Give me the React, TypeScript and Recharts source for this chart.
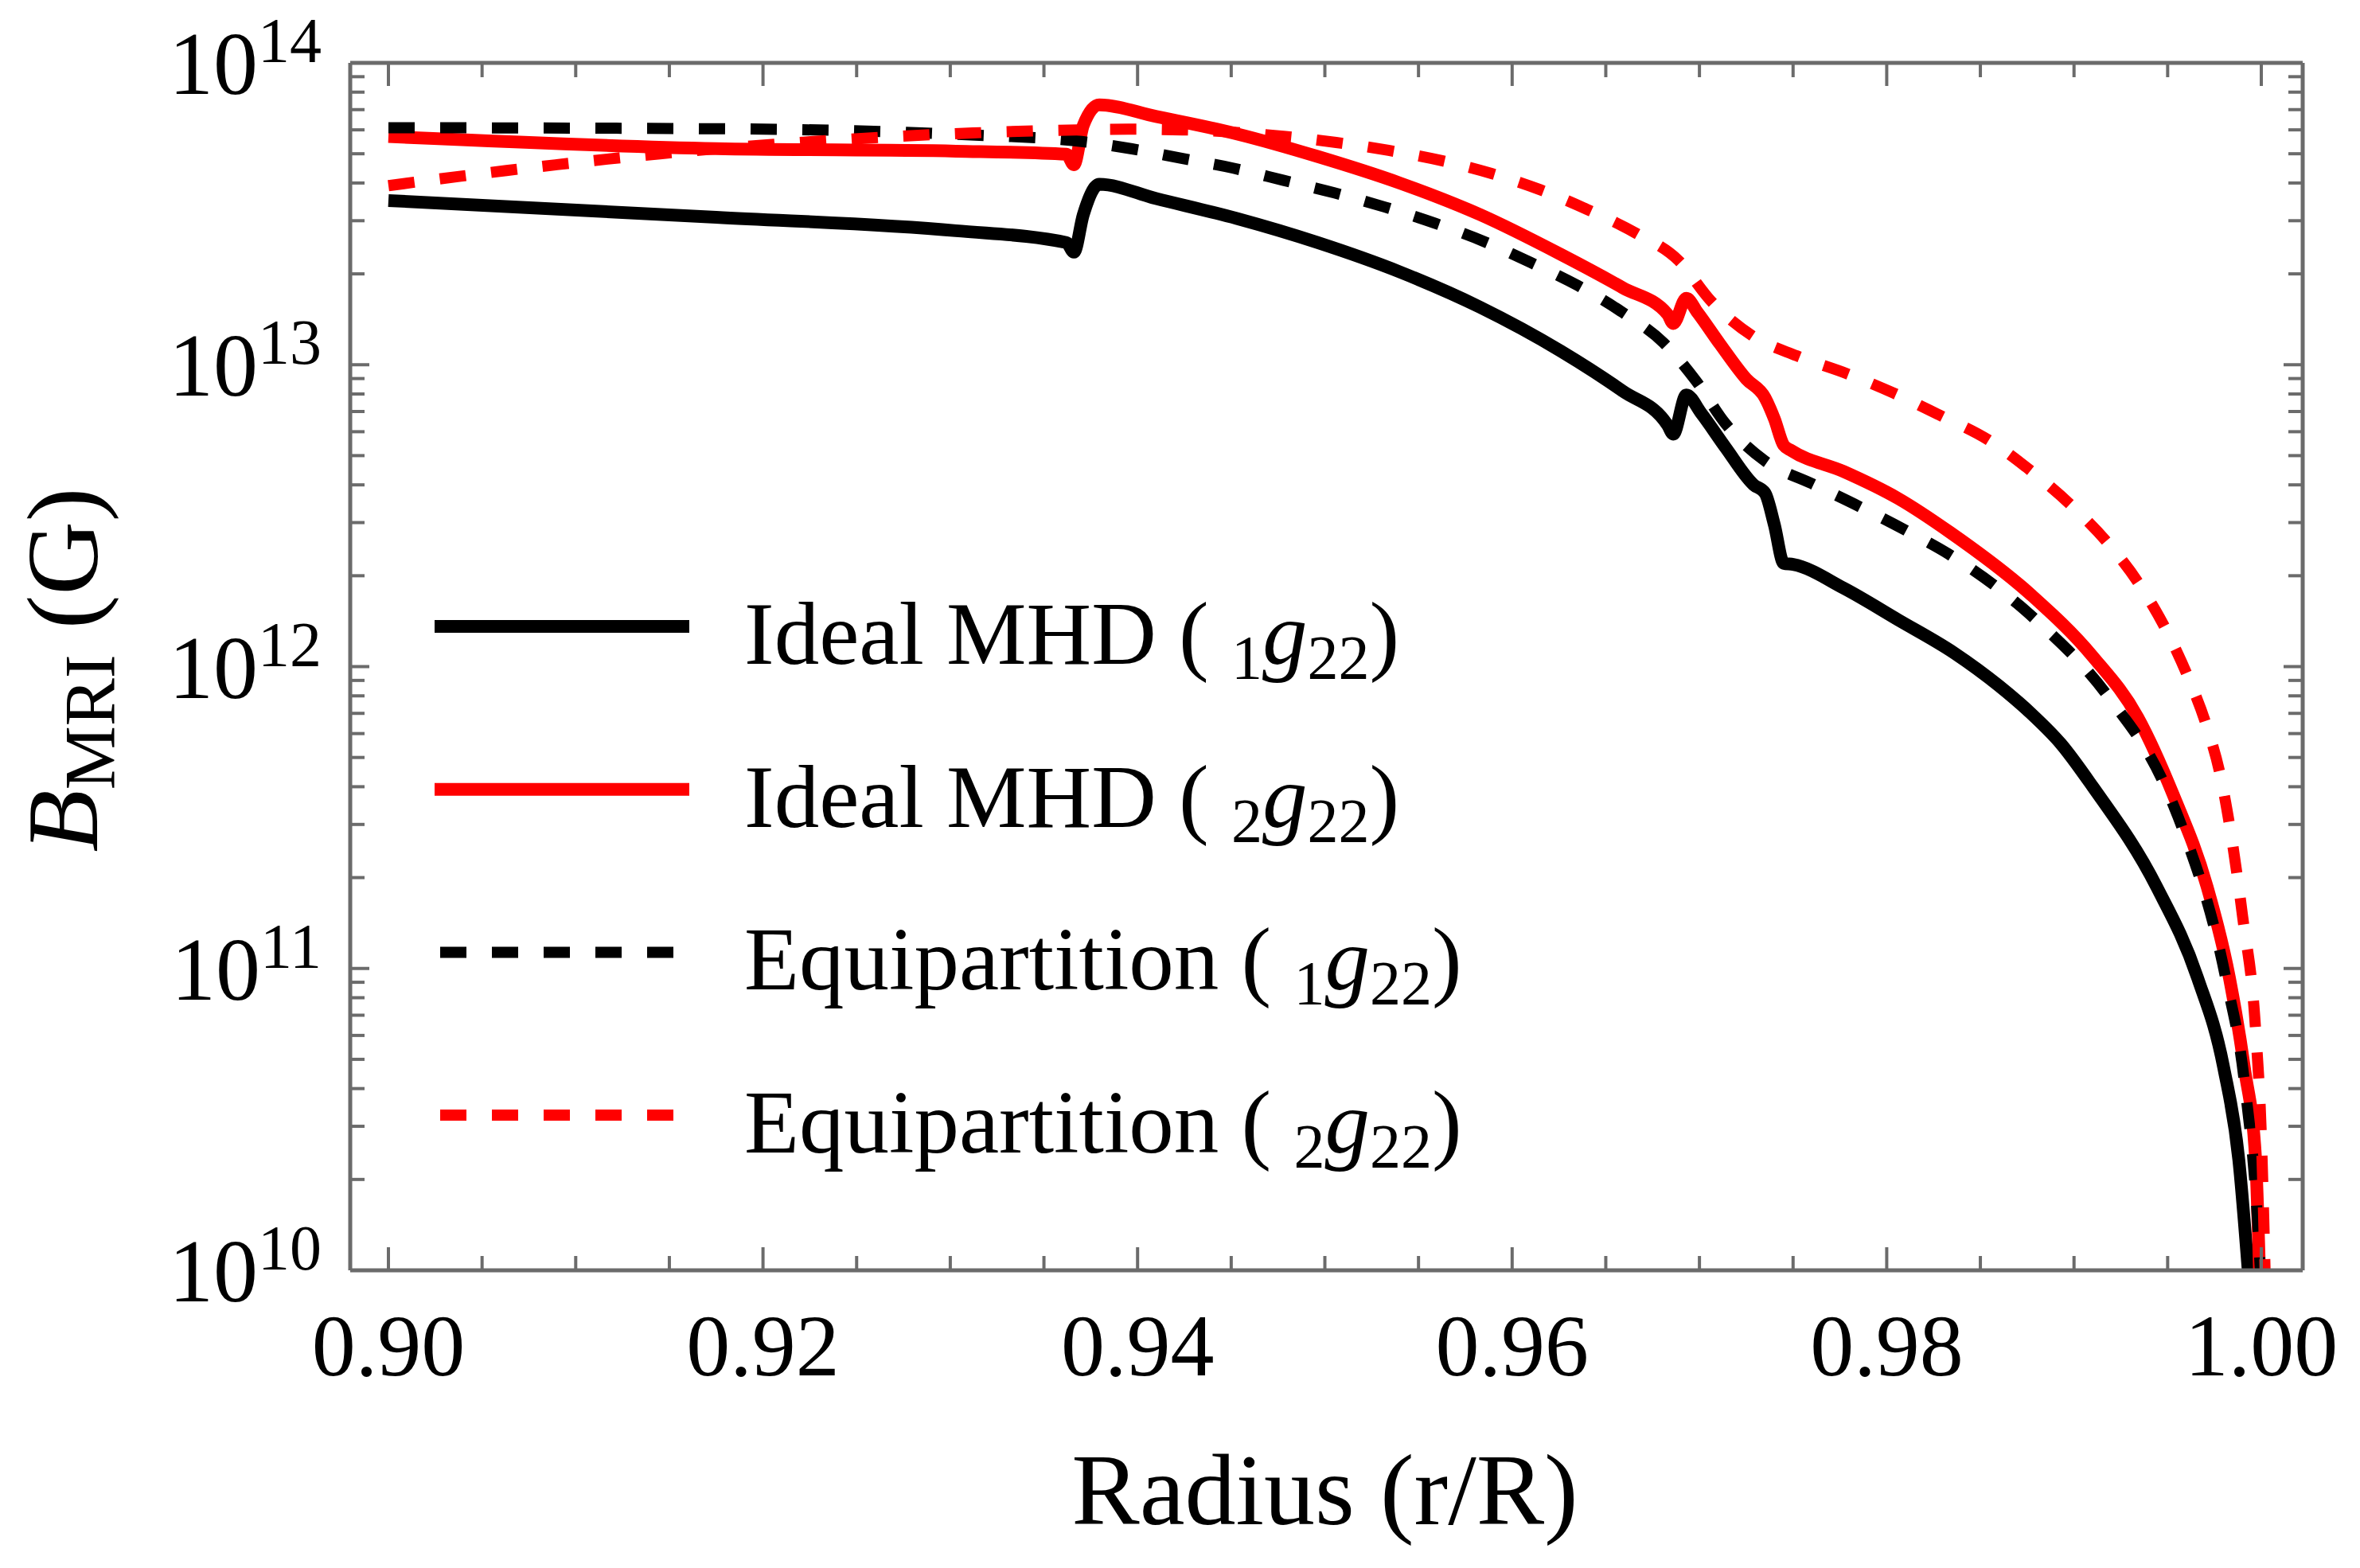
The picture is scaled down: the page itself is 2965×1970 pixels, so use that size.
import React from "react"
import { LineChart, Line, XAxis, YAxis, Legend } from "recharts"

const FONT = '"Liberation Serif", "Times New Roman", serif'
const GRAY = "#6b6b6b"

// radius r/R and B_MRI (G)
const idealG1X = [0.9, 0.9175, 0.9303, 0.9362, 0.9366, 0.9371, 0.93795, 0.941, 0.9453, 0.9496, 0.954, 0.9583, 0.9626, 0.9659, 0.9683, 0.9686, 0.9693, 0.9701, 0.9714, 0.9729, 0.9735, 0.974, 0.9745, 0.975, 0.9777, 0.9806, 0.9836, 0.986, 0.9877, 0.9893, 0.991, 0.9944, 0.9966, 0.998, 0.9988, 0.9993]
const idealG1Y = [3.5e13, 3.08e13, 2.78e13, 2.54e13, 2.36e13, 3.14e13, 3.96e13, 3.55e13, 3.05e13, 2.54e13, 2.03e13, 1.55e13, 1.11e13, 8.18e12, 6.31e12, 5.89e12, 7.94e12, 6.9e12, 5.31e12, 4.0e12, 3.76e12, 2.95e12, 2.2e12, 2.18e12, 1.82e12, 1.43e12, 1.11e12, 8.63e11, 7.0e11, 5.55e11, 4.0e11, 1.87e11, 9.3e10, 4.67e10, 2.32e10, 1.0e10]

const idealG2X = [0.9, 0.9175, 0.9303, 0.9362, 0.9366, 0.9371, 0.93795, 0.941, 0.9453, 0.9496, 0.954, 0.9583, 0.9626, 0.9659, 0.9683, 0.9686, 0.9693, 0.9699, 0.9711, 0.9725, 0.9735, 0.974, 0.9745, 0.9749, 0.9777, 0.9806, 0.9834, 0.9877, 0.991, 0.9934, 0.9953, 0.9971, 0.9983, 0.9991, 0.9997, 0.9999]
const idealG2Y = [5.7e13, 5.2e13, 5.1e13, 4.98e13, 4.6e13, 6.2e13, 7.26e13, 6.64e13, 5.82e13, 4.9e13, 4.0e13, 3.14e13, 2.32e13, 1.8e13, 1.47e13, 1.37e13, 1.66e13, 1.49e13, 1.17e13, 8.97e12, 7.78e12, 6.62e12, 5.41e12, 5.2e12, 4.43e12, 3.61e12, 2.78e12, 1.73e12, 1.08e12, 6.8e11, 3.76e11, 1.87e11, 9.3e10, 4.67e10, 2.32e10, 1.0e10]

const equiG1X = [0.9, 0.9175, 0.9303, 0.9371, 0.9397, 0.9424, 0.9451, 0.9478, 0.9505, 0.9532, 0.9559, 0.9585, 0.961, 0.9635, 0.9659, 0.9681, 0.9698, 0.9714, 0.9735, 0.976, 0.9785, 0.981, 0.9833, 0.9879, 0.9918, 0.9948, 0.9958, 0.9981, 0.9991, 0.99985, 0.99995]
const equiG1Y = [6.1e13, 6.05e13, 5.8e13, 5.48e13, 5.19e13, 4.82e13, 4.48e13, 4.08e13, 3.71e13, 3.33e13, 2.94e13, 2.56e13, 2.18e13, 1.83e13, 1.49e13, 1.18e13, 8.87e12, 6.37e12, 4.8e12, 4.04e12, 3.4e12, 2.83e12, 2.36e12, 1.44e12, 8.0e11, 4.1e11, 2.9e11, 9.3e10, 4.2e10, 1.3e10, 1.0e10]

const equiG2X = [0.9, 0.9037, 0.9063, 0.909, 0.9117, 0.9145, 0.9173, 0.9312, 0.9368, 0.9395, 0.9424, 0.9479, 0.9506, 0.9534, 0.9562, 0.9589, 0.9615, 0.964, 0.9666, 0.9689, 0.9706, 0.9728, 0.9752, 0.9779, 0.9804, 0.9828, 0.9855, 0.9878, 0.9899, 0.9918, 0.9935, 0.9949, 0.9961, 0.9971, 0.9978, 0.9983, 0.999, 0.9997, 1.0, 1.0002]
const equiG2Y = [3.92e13, 4.2e13, 4.4e13, 4.6e13, 4.8e13, 5.0e13, 5.18e13, 5.86e13, 6.0e13, 6.03e13, 6.0e13, 5.7e13, 5.45e13, 5.13e13, 4.75e13, 4.3e13, 3.8e13, 3.27e13, 2.73e13, 2.21e13, 1.63e13, 1.25e13, 1.07e13, 9.33e12, 8.04e12, 6.82e12, 5.6e12, 4.4e12, 3.4e12, 2.57e12, 1.87e12, 1.33e12, 9.2e11, 6.3e11, 4.4e11, 3.0e11, 1.49e11, 6.2e10, 2.8e10, 1.0e10]

// axes
const xMajor = [0.9, 0.92, 0.94, 0.96, 0.98, 1.0]
const xMinor = [0.905, 0.91, 0.915, 0.925, 0.93, 0.935, 0.945, 0.95, 0.955, 0.965, 0.97, 0.975, 0.985, 0.99, 0.995]
const yMajor = [1e10, 1e11, 1e12, 1e13, 1e14]
const yMinor = [10, 11, 12, 13].flatMap((e) => [2, 3, 4, 5, 6, 7, 8, 9].map((m) => m * 10 ** e))
const X_DOMAIN = [0.89796, 1.00221]
const Y_DOMAIN = [1e10, 1e14]

const series = [
  { name: "Ideal MHD 1", label: "Ideal MHD", sub: "1", color: "#000000", dashed: false, xs: idealG1X, ys: idealG1Y },
  { name: "Ideal MHD 2", label: "Ideal MHD", sub: "2", color: "#ff0000", dashed: false, xs: idealG2X, ys: idealG2Y },
  { name: "Equipartition 1", label: "Equipartition", sub: "1", color: "#000000", dashed: true, xs: equiG1X, ys: equiG1Y },
  { name: "Equipartition 2", label: "Equipartition", sub: "2", color: "#ff0000", dashed: true, xs: equiG2X, ys: equiG2Y },
]

const toPoints = (xs: number[], ys: number[]) => xs.map((x, i) => ({ x, y: ys[i] }))

const Blank = () => <g />

const YTick = (props: any) => {
  const { x, y, payload } = props
  const exp = Math.round(Math.log10(payload.value))
  return (
    <text x={x} y={y + 39} textAnchor="end" fontFamily={FONT} fontSize={112} fill="#000">
      <tspan>10</tspan>
      <tspan dy={-40} fontSize={80}>{exp}</tspan>
    </text>
  )
}

const YLabel = (props: any) => {
  const vb = props.viewBox || {}
  const cy = vb.y + vb.height / 2
  return (
    <text transform={`translate(122, ${cy + 4}) rotate(-90)`} textAnchor="middle" fontFamily={FONT} fontSize={128} fill="#000">
      <tspan fontStyle="italic">B</tspan>
      <tspan dy={22} fontSize={90}>MRI</tspan>
      <tspan dy={-22}> (G)</tspan>
    </text>
  )
}

const XLabel = (props: any) => {
  const vb = props.viewBox || {}
  const cx = vb.x + vb.width / 2
  return (
    <text x={cx - 2} y={1915} textAnchor="middle" fontFamily={FONT} fontSize={128} fill="#000">
      Radius (r/R)
    </text>
  )
}

// legend drawn in series order, not in the sorted payload order
const LegendBox = () => (
  <svg width={1120} height={820} style={{ display: "block", overflow: "visible" }}>
    {series.map((s, i) => {
      const cy = 87 + i * 204.7
      return (
        <g key={s.name}>
          <line
            x1={s.dashed ? 13 : 6}
            x2={s.dashed ? 310 : 326}
            y1={cy}
            y2={cy}
            stroke={s.color}
            strokeWidth={s.dashed ? 14 : 16}
            strokeDasharray={s.dashed ? "33 32" : undefined}
          />
          <text x={395} y={cy + 47} fontFamily={FONT} fontSize={113} fill="#000">
            <tspan>{s.label} ( </tspan>
            <tspan dy={18} fontSize={78}>{s.sub}</tspan>
            <tspan dy={-18} fontStyle="italic">g</tspan>
            <tspan dy={18} fontSize={78}>22</tspan>
            <tspan dy={-18}>)</tspan>
          </text>
        </g>
      )
    })}
  </svg>
)

const tickLineStyle = { stroke: GRAY, strokeWidth: 4 }
const axisLineStyle = { stroke: GRAY, strokeWidth: 5 }

// tick-only axes: mirrored so the marks point into the frame
const xTickAxis = (id: string, orientation: "top" | "bottom", ticks: number[], size: number, line: boolean) => (
  <XAxis
    key={id}
    xAxisId={id}
    orientation={orientation}
    mirror
    dataKey="x"
    type="number"
    domain={X_DOMAIN}
    allowDataOverflow
    ticks={ticks}
    interval={0}
    height={1}
    tickSize={size}
    tick={Blank}
    tickLine={tickLineStyle}
    axisLine={line ? axisLineStyle : false}
  />
)

const yTickAxis = (id: string, orientation: "left" | "right", ticks: number[], size: number, line: boolean) => (
  <YAxis
    key={id}
    yAxisId={id}
    orientation={orientation}
    mirror
    scale="log"
    type="number"
    domain={Y_DOMAIN}
    allowDataOverflow
    ticks={ticks}
    interval={0}
    width={1}
    tickSize={size}
    tick={Blank}
    tickLine={tickLineStyle}
    axisLine={line ? axisLineStyle : false}
  />
)

export default function App() {
  return (
    <div style={{ position: "absolute", left: 0, top: 0, background: "#fff" }}>
      <LineChart width={2965} height={1970} margin={{ top: 79, right: 72, bottom: 373, left: 439 }}>
        <XAxis
          xAxisId="x"
          dataKey="x"
          type="number"
          domain={X_DOMAIN}
          allowDataOverflow
          ticks={xMajor}
          interval={0}
          height={1}
          tickSize={0}
          tickMargin={54}
          tickFormatter={(v: number) => v.toFixed(2)}
          tick={{ fontSize: 110, fill: "#000", fontFamily: FONT }}
          tickLine={false}
          axisLine={axisLineStyle}
          label={{ content: XLabel }}
        />
        {xTickAxis("xM", "bottom", xMajor, 29, false)}
        {xTickAxis("xm", "bottom", xMinor, 17, false)}
        {xTickAxis("xT", "top", xMajor, 29, true)}
        {xTickAxis("xt", "top", xMinor, 17, false)}
        <YAxis
          yAxisId="y"
          scale="log"
          type="number"
          domain={Y_DOMAIN}
          allowDataOverflow
          ticks={yMajor}
          interval={0}
          width={1}
          tickSize={0}
          tickMargin={36}
          tick={<YTick />}
          tickLine={false}
          axisLine={axisLineStyle}
          label={{ content: YLabel }}
        />
        {yTickAxis("yM", "left", yMajor, 24, false)}
        {yTickAxis("ym", "left", yMinor, 17, false)}
        {yTickAxis("yR", "right", yMajor, 24, true)}
        {yTickAxis("yr", "right", yMinor, 17, false)}
        <Legend
          layout="vertical"
          align="center"
          verticalAlign="middle"
          content={<LegendBox />}
          wrapperStyle={{ left: 540, top: 700, width: 1120, height: 820 }}
        />
        {series.map((s) => (
          <Line
            key={s.name}
            name={s.name}
            xAxisId="x"
            yAxisId="y"
            data={toPoints(s.xs, s.ys)}
            dataKey="y"
            type="monotoneX"
            stroke={s.color}
            strokeWidth={s.dashed ? 14 : 16}
            strokeDasharray={s.dashed ? "33 32" : undefined}
            dot={false}
            activeDot={false}
            isAnimationActive={false}
          />
        ))}
      </LineChart>
    </div>
  )
}
